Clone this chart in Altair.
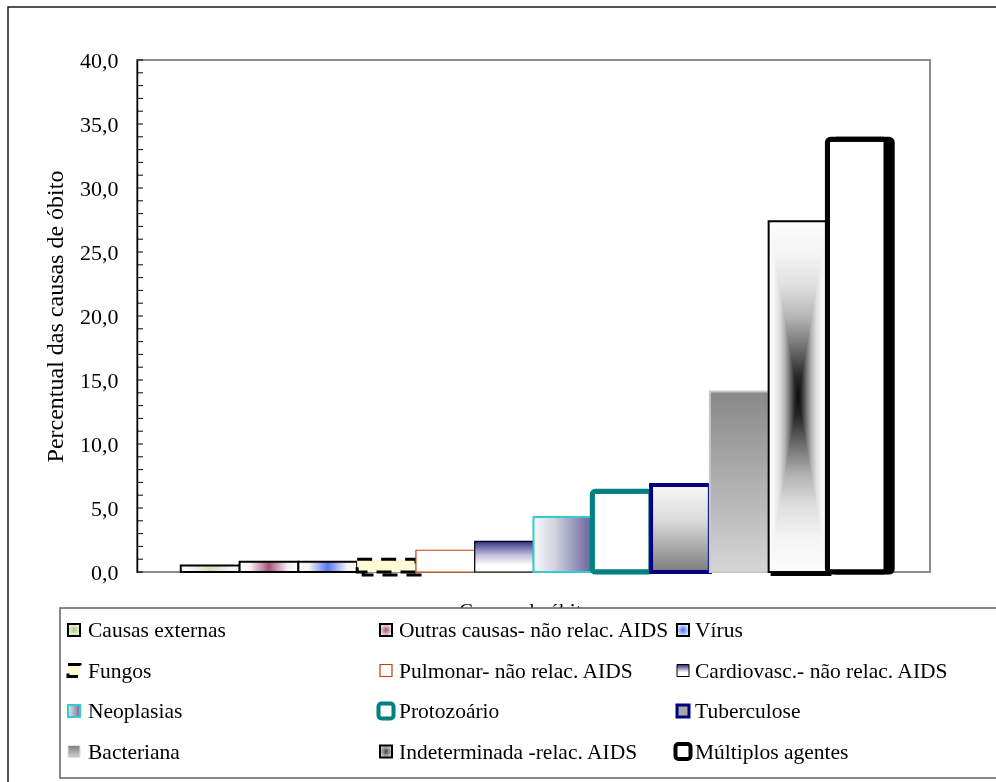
import altair as alt
import pandas as pd

# ---------------- data ----------------
categories = [
    "Causas externas",
    "Outras causas- não relac. AIDS",
    "Vírus",
    "Fungos",
    "Pulmonar- não relac. AIDS",
    "Cardiovasc.- não relac. AIDS",
    "Neoplasias",
    "Protozoário",
    "Tuberculose",
    "Bacteriana",
    "Indeterminada -relac. AIDS",
    "Múltiplos agentes",
]
values = [0.5, 0.8, 0.8, 1.0, 1.7, 2.4, 4.3, 6.3, 6.8, 14.1, 27.4, 33.8]
y_tick_values = [0, 5, 10, 15, 20, 25, 30, 35, 40]
minor_tick_values = list(range(0, 41))
y_title = "Percentual das causas de óbito"
x_title = "Causas de óbito"

# ---------------- layout ----------------
SERIF = "Liberation Serif"
OX, OY = 137, 60          # plot origin in page pixels
PW, PH = 793, 512         # plot size
sym_x = [67, 379, 676]    # legend symbol columns (page px)
txt_x = [88, 399, 695]    # legend text columns (page px)
row_base = [637, 677.5, 718, 758.5]  # legend text baselines (page px)

df = pd.DataFrame({"cat": categories, "val": values})
dummy = pd.DataFrame({"k": [0]})


def stops(lst):
    return [alt.GradientStop(offset=o, color=c) for o, c in lst]


def lin(lst, x1=0, y1=0, x2=0, y2=1):
    return alt.LinearGradient(gradient="linear", stops=stops(lst), x1=x1, y1=y1, x2=x2, y2=y2)


def hlin(lst):
    return lin(lst, 0, 0, 1, 0)


def rad(lst):
    return alt.RadialGradient(gradient="radial", stops=stops(lst),
                              x1=0.5, y1=0.5, r1=0, x2=0.5, y2=0.5, r2=0.5)


def streak(c):
    return hlin([(0, "#ffffff"), (0.18, "#f6f0f3"), (0.5, c), (0.82, "#f6f0f3"), (1, "#ffffff")])


# symmetric "from centre" ramp (dark centre, white edges)
_half = [(0.0, "#fcfcfc"), (0.1, "#f4f4f4"), (0.19, "#dedede"), (0.275, "#b4b4b4"),
         (0.36, "#707070"), (0.44, "#2a2a2a"), (0.5, "#0c0c0c")]
centre_ramp = _half + [(round(1 - o, 3), c) for o, c in reversed(_half[:-1])]

bar_styles = [
    dict(fill=streak("#cfe0b4"), stroke="black", strokeWidth=2),
    dict(fill=streak("#a8547e"), stroke="black", strokeWidth=2),
    dict(fill=streak("#5a78f0"), stroke="black", strokeWidth=2),
    dict(fill="#fffbd6", stroke="black", strokeWidth=3, strokeDash=[15, 9],
         shadow=dict(dx=6, dy=3, fill="transparent", stroke="black", strokeWidth=3, strokeDash=[15, 9])),
    dict(fill="white", stroke="#c0410c", strokeWidth=1.2),
    dict(fill=lin([(0, "#262680"), (0.12, "#5a5aa0"), (0.45, "#c0c0dc"), (0.78, "#ffffff"), (1, "#ffffff")]),
         stroke="black", strokeWidth=1.2),
    dict(fill=hlin([(0, "#f8f8fb"), (0.35, "#d4d4e2"), (1, "#64649a")]), stroke="#33cccc", strokeWidth=2),
    dict(fill="white", stroke="#008080", strokeWidth=5, cornerRadius=3),
    dict(fill=lin([(0, "#f7f7f7"), (0.4, "#dcdcdc"), (1, "#7c7c7c")]), stroke="#000080", strokeWidth=4),
    dict(fill=lin([(0, "#888888"), (1, "#d6d6d6")]), stroke="#c8c8c8", strokeWidth=2),
    dict(fill=lin(centre_ramp), stroke="black", strokeWidth=2,
         overlay=hlin(centre_ramp),
         shadow=dict(dx=3, dy=3, fill="black", stroke="black", strokeWidth=2)),
    dict(fill="white", stroke="black", strokeWidth=5, cornerRadius=3,
         shadow=dict(dx=6, dy=4, fill="black", stroke="black", strokeWidth=5, cornerRadius=3)),
]

sym_styles = [
    dict(fill=rad([(0, "#a8cc78"), (1, "#eef6e4")]), stroke="black", strokeWidth=2),
    dict(fill=rad([(0, "#b05080"), (1, "#f2e4ec")]), stroke="black", strokeWidth=2),
    dict(fill=rad([(0, "#4a6cf0"), (1, "#e6eafc")]), stroke="black", strokeWidth=2),
    dict(fill="#fffbd6", stroke="black", strokeWidth=3, strokeDash=[13, 13]),
    dict(fill="white", stroke="#c0410c", strokeWidth=1.2),
    dict(fill=lin([(0, "#262680"), (0.65, "#ffffff")]), stroke="black", strokeWidth=1),
    dict(fill=hlin([(0, "#e8e8f0"), (1, "#7070a0")]), stroke="#33cccc", strokeWidth=2),
    dict(fill="white", stroke="#008080", strokeWidth=4, cornerRadius=3, big=True),
    dict(fill="#a8a8a8", stroke="#000080", strokeWidth=3),
    dict(fill=lin([(0, "#808080"), (1, "#d0d0d0")]), stroke="#e0e0e0", strokeWidth=1),
    dict(fill=rad([(0, "#404040"), (1, "#d0d0d0")]), stroke="black", strokeWidth=2),
    dict(fill="white", stroke="black", strokeWidth=4, cornerRadius=3, big=True),
]

# ---------------- shared encodings ----------------
xenc = alt.X(
    "cat:N",
    scale=alt.Scale(domain=categories, paddingInner=0, paddingOuter=0.745),
    axis=alt.Axis(title=x_title, labels=False, ticks=False, domain=False, grid=False,
                  titleFont=SERIF, titleFontSize=21, titleFontWeight="normal", titleColor="black",
                  titleX=388, titleY=45, titleBaseline="alphabetic", titleAlign="center", zindex=0),
)
yenc = alt.Y(
    "val:Q",
    scale=alt.Scale(domain=[0, 40], nice=False, zero=True),
    axis=alt.Axis(values=y_tick_values,
                  labelExpr="replace(format(datum.value, '.1f'), '.', ',')",
                  labelFont=SERIF, labelFontSize=22, labelColor="black", labelPadding=19,
                  ticks=False, tickSize=0, grid=False, domainColor="black", domainWidth=1.5,
                  title=y_title, titleFont=SERIF, titleFontSize=24, titleFontWeight="normal",
                  titleColor="black", titleAngle=270, titleX=-75, titleY=256,
                  titleBaseline="alphabetic", titleAlign="center", zindex=0),
)

MARK_KEYS = ("fill", "stroke", "strokeWidth", "strokeDash", "cornerRadius")


def mprops(st):
    return {k: st[k] for k in MARK_KEYS if k in st}


layers = []

# outer frame
layers.append(
    alt.Chart(dummy).mark_rect(fill="white", fillOpacity=0, stroke="#1a1a1a", strokeWidth=1.5).encode(
        x=alt.value(8 - OX), x2=alt.value(1200), y=alt.value(7 - OY), y2=alt.value(900))
)

# bars
for i, cat in enumerate(categories):
    st = bar_styles[i]
    base = alt.Chart(df).transform_filter(alt.FieldEqualPredicate(field="cat", equal=cat))
    if "shadow" in st:
        sh = dict(st["shadow"])
        dx, dy = sh.pop("dx"), sh.pop("dy")
        layers.append(base.mark_bar(xOffset=dx, yOffset=dy, **mprops(sh)).encode(x=xenc, y=yenc))
    if "overlay" in st:
        # rectangular "from centre" gradient: max of a vertical and a horizontal ramp
        layers.append(base.mark_bar(fill=st["fill"], strokeWidth=0).encode(x=xenc, y=yenc))
        layers.append(base.mark_bar(fill=st["overlay"], strokeWidth=0, blend="lighten").encode(x=xenc, y=yenc))
        layers.append(base.mark_bar(fill="transparent", stroke=st["stroke"],
                                    strokeWidth=st["strokeWidth"]).encode(x=xenc, y=yenc))
    else:
        layers.append(base.mark_bar(**mprops(st)).encode(x=xenc, y=yenc))

# inner y ticks
layers.append(
    alt.Chart(pd.DataFrame({"val": minor_tick_values})).mark_rule(color="black", strokeWidth=1).encode(
        y=yenc, x=alt.value(0), x2=alt.value(6))
)

# legend box (covers lower part of x title, as in the original)
layers.append(
    alt.Chart(dummy).mark_rect(fill="white", stroke="#606060", strokeWidth=1.5).encode(
        x=alt.value(60 - OX), x2=alt.value(1200), y=alt.value(608 - OY), y2=alt.value(778 - OY))
)

# legend entries
for i, cat in enumerate(categories):
    col, row = i % 3, i // 3
    st = sym_styles[i]
    base = alt.Chart(df).transform_filter(alt.FieldEqualPredicate(field="cat", equal=cat))
    b = row_base[row]
    if st.get("big"):
        cx, cy = sym_x[col] + 7, b - 7
        sx1, sx2, sy1, sy2 = cx - 7.5, cx + 7.5, cy - 7.5, cy + 7.5
    else:
        sx1, sx2, sy1, sy2 = sym_x[col] + 1, sym_x[col] + 13, b - 13, b - 1
    layers.append(base.mark_rect(**mprops(st)).encode(
        x=alt.value(sx1 - OX), x2=alt.value(sx2 - OX), y=alt.value(sy1 - OY), y2=alt.value(sy2 - OY)))
    layers.append(base.mark_text(align="left", baseline="alphabetic", font=SERIF, fontSize=21.5,
                                 color="black").encode(
        x=alt.value(txt_x[col] - OX), y=alt.value(b - OY), text="cat:N"))

chart = alt.layer(*layers).properties(
    width=PW, height=PH,
    padding={"left": OX, "top": OY, "right": 996 - OX - PW, "bottom": 782 - OY - PH},
    autosize=alt.AutoSizeParams(type="none"),
    background="white",
).configure_view(stroke="#8c8c8c", strokeWidth=2)

chart.save("out.html", embed_options={"renderer": "svg", "actions": False})
